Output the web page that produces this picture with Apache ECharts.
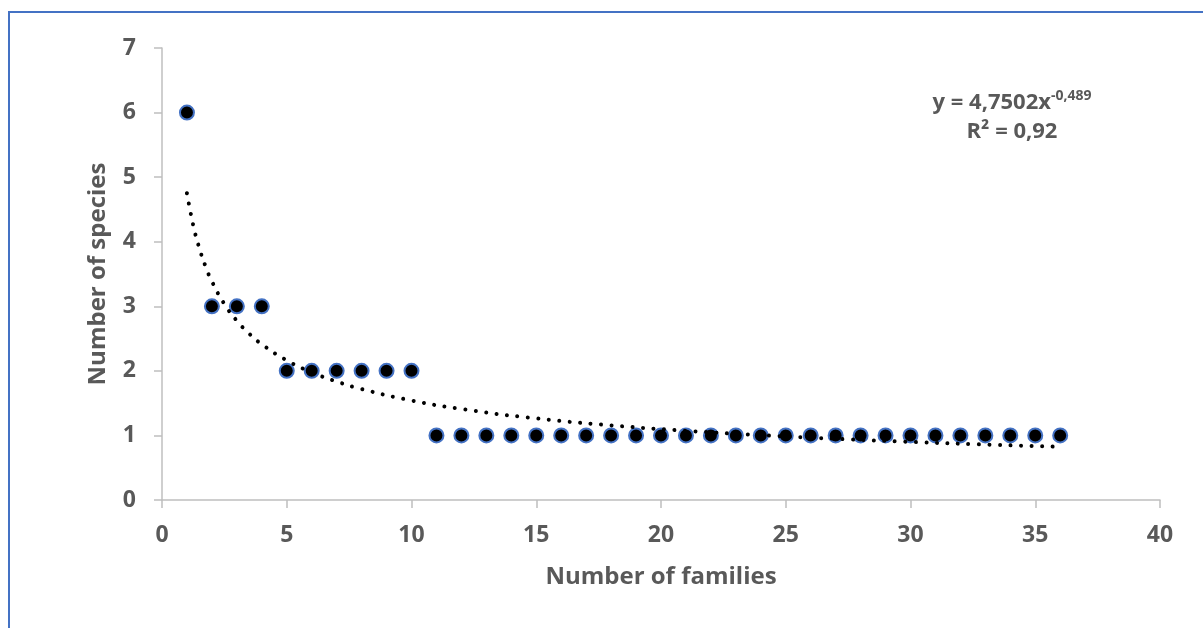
<!DOCTYPE html>
<html>
<head>
<meta charset="utf-8">
<script src="https://cdn.jsdelivr.net/npm/echarts@6/dist/echarts.min.js"></script>
<style>
html,body{margin:0;padding:0;background:#fff;}
#chart{width:1203px;height:628px;}
</style>
</head>
<body>
<div id="chart"></div>
<script>
// Observed data: number of families (x) vs number of species (y)
const families = [1,2,3,4,5,6,7,8,9,10,11,12,13,14,15,16,17,18,19,20,21,22,23,24,25,26,27,28,29,30,31,32,33,34,35,36];
const species  = [6,3,3,3,2,2,2,2,2,2,1,1,1,1,1,1,1,1,1,1,1,1,1,1,1,1,1,1,1,1,1,1,1,1,1,1];

// Power trendline (y = 4,7502x^-0,489)
const trendX = [1,1.25,1.5,1.75,2,2.5,3,3.5,4,5,6,7,8,10,12,15,18,21,24,27,30,33,36];
const trendY = [4.750,4.259,3.896,3.613,3.385,3.035,2.776,2.574,2.412,2.162,1.978,1.834,1.718,1.541,1.409,1.264,1.156,1.072,1.004,0.948,0.900,0.859,0.824];

const xTicks = [0,5,10,15,20,25,30,35,40];
const yTicks = [0,1,2,3,4,5,6,7];

const eqMain = 'y = 4,7502x';
const eqSup = '-0,489';
const eqR2 = 'R² = 0,92';
const xTitle = 'Number of families';
const yTitle = 'Number of species';

const FONT = '"Open Sans", Lato, sans-serif';
const GREY = '#595959';

const chart = echarts.init(document.getElementById('chart'), null, {renderer:'canvas'});
chart.setOption({
  animation: false,
  backgroundColor: '#fff',
  grid: {left: 162, right: 43, top: 48, bottom: 128, containLabel: false},
  xAxis: {
    type: 'value', min: 0, max: 40, interval: 5,
    name: xTitle, nameLocation: 'middle', nameGap: 65,
    nameTextStyle: {color: GREY, fontFamily: FONT, fontWeight: 'bold', fontSize: 24},
    axisLine: {show: true, onZero: false, lineStyle: {color: '#BFBFBF', width: 1.5}},
    axisTick: {show: true, inside: false, length: 8, lineStyle: {color: '#BFBFBF', width: 1.5}},
    axisLabel: {color: GREY, fontFamily: FONT, fontWeight: 'bold', fontSize: 23, margin: 24,
      formatter: v => xTicks.includes(v) ? String(v) : ''},
    splitLine: {show: false}
  },
  yAxis: {
    type: 'value', min: 0, max: 7, interval: 1,
    name: yTitle, nameLocation: 'middle', nameGap: 52,
    nameTextStyle: {color: GREY, fontFamily: FONT, fontWeight: 'bold', fontSize: 24},
    axisLine: {show: true, onZero: false, lineStyle: {color: '#BFBFBF', width: 1.5}},
    axisTick: {show: true, inside: false, length: 8, lineStyle: {color: '#BFBFBF', width: 1.5}},
    axisLabel: {color: GREY, fontFamily: FONT, fontWeight: 'bold', fontSize: 23, margin: 26,
      formatter: v => yTicks.includes(v) ? String(v) : ''},
    splitLine: {show: false}
  },
  series: [
    {
      type: 'scatter', z: 2,
      data: families.map((x, i) => [x, species[i]]),
      symbol: 'circle', symbolSize: 14,
      itemStyle: {color: '#000', borderColor: '#4472C4', borderWidth: 2, opacity: 1}
    },
    {
      type: 'line', z: 3, smooth: true, showSymbol: false, symbol: 'none',
      data: trendX.map((x, i) => [x, trendY[i]]),
      lineStyle: {color: '#000', width: 4, type: [0.01, 10.5], cap: 'round'}
    }
  ],
  graphic: [
    {type: 'rect', silent: true, z: 100,
      shape: {x: 9, y: 12, width: 1400, height: 800},
      style: {fill: 'none', stroke: '#4472C4', lineWidth: 2}},
    {type: 'text', z: 100, x: 1012, y: 103,
      style: {
        text: '{m|' + eqMain + '}{s|' + eqSup + '}',
        align: 'center', verticalAlign: 'middle',
        rich: {
          m: {fill: GREY, fontFamily: FONT, fontWeight: 'bold', fontSize: 22, lineHeight: 28},
          s: {fill: GREY, fontFamily: FONT, fontWeight: 'bold', fontSize: 14, lineHeight: 16, verticalAlign: 'top'}
        }
      }},
    {type: 'text', z: 100, x: 1012, y: 132,
      style: {text: eqR2, align: 'center', verticalAlign: 'middle', fill: GREY,
        fontFamily: FONT, fontWeight: 'bold', fontSize: 22}}
  ]
});
</script>
</body>
</html>
